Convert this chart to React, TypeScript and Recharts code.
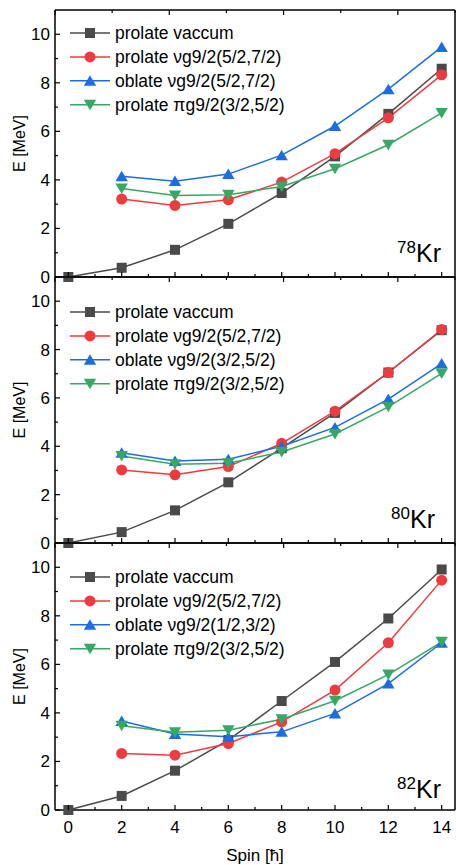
import React from 'react';
import { LineChart, Line, XAxis, YAxis, Legend } from 'recharts';

const SPIN = [0, 2, 4, 6, 8, 10, 12, 14];
const X_TICKS = [0, 1, 2, 3, 4, 5, 6, 7, 8, 9, 10, 11, 12, 13, 14];
const Y_TICKS = [0, 1, 2, 3, 4, 5, 6, 7, 8, 9, 10];

// 78Kr
const KR78_VACUUM = [0, 0.38, 1.12, 2.19, 3.46, 4.97, 6.72, 8.58];
const KR78_NU = [null, 3.21, 2.95, 3.18, 3.91, 5.08, 6.56, 8.33];
const KR78_OBLATE = [null, 4.15, 3.95, 4.24, 5.02, 6.22, 7.74, 9.48];
const KR78_PI = [null, 3.65, 3.36, 3.39, 3.73, 4.46, 5.45, 6.76];

// 80Kr
const KR80_VACUUM = [0, 0.45, 1.35, 2.51, 3.92, 5.38, 7.05, 8.8];
const KR80_NU = [null, 3.02, 2.82, 3.16, 4.12, 5.45, 7.05, 8.83];
const KR80_OBLATE = [null, 3.73, 3.39, 3.46, 4.0, 4.78, 5.95, 7.42];
const KR80_PI = [null, 3.6, 3.26, 3.3, 3.76, 4.51, 5.63, 7.01];

// 82Kr
const KR82_VACUUM = [0, 0.58, 1.62, 2.88, 4.49, 6.1, 7.89, 9.91];
const KR82_NU = [null, 2.33, 2.26, 2.74, 3.63, 4.94, 6.89, 9.47];
const KR82_OBLATE = [null, 3.67, 3.13, 3.02, 3.22, 3.98, 5.21, 6.89];
const KR82_PI = [null, 3.47, 3.2, 3.29, 3.74, 4.5, 5.58, 6.93];

const FONT = '"Liberation Sans", Arial, sans-serif';
const FRAME = { stroke: '#000', strokeWidth: 1.5 };

type Shape = 'square' | 'circle' | 'up' | 'down';

const SERIES: { key: string; color: string; shape: Shape }[] = [
  { key: 'vacuum', color: '#4a4a4a', shape: 'square' },
  { key: 'nu', color: '#ef3b3f', shape: 'circle' },
  { key: 'oblate', color: '#1c6de0', shape: 'up' },
  { key: 'pi', color: '#37a864', shape: 'down' },
];

const PANELS = [
  {
    mass: '78',
    names: ['prolate vaccum', 'prolate νg9/2(5/2,7/2)', 'oblate νg9/2(5/2,7/2)', 'prolate πg9/2(3/2,5/2)'],
    vacuum: KR78_VACUUM, nu: KR78_NU, oblate: KR78_OBLATE, pi: KR78_PI,
    top: 10, height: 267, legendTop: 21, isoRight: 14, isoBase: 15,
  },
  {
    mass: '80',
    names: ['prolate vaccum', 'prolate νg9/2(5/2,7/2)', 'oblate νg9/2(3/2,5/2)', 'prolate πg9/2(3/2,5/2)'],
    vacuum: KR80_VACUUM, nu: KR80_NU, oblate: KR80_OBLATE, pi: KR80_PI,
    top: 277, height: 266, legendTop: 33, isoRight: 20, isoBase: 15,
  },
  {
    mass: '82',
    names: ['prolate vaccum', 'prolate νg9/2(5/2,7/2)', 'oblate νg9/2(1/2,3/2)', 'prolate πg9/2(3/2,5/2)'],
    vacuum: KR82_VACUUM, nu: KR82_NU, oblate: KR82_OBLATE, pi: KR82_PI,
    top: 543, height: 267, legendTop: 32, isoRight: 14, isoBase: 12,
  },
];

const Marker = ({ cx, cy, shape, color }: any) => {
  if (cx == null || cy == null || isNaN(cy)) return <g />;
  if (shape === 'square') return <rect x={cx - 5} y={cy - 5} width={10} height={10} fill={color} />;
  if (shape === 'circle') return <circle cx={cx} cy={cy} r={5.5} fill={color} />;
  if (shape === 'up')
    return <polygon points={`${cx},${cy - 5.5} ${cx + 6.2},${cy + 5} ${cx - 6.2},${cy + 5}`} fill={color} />;
  return <polygon points={`${cx},${cy + 5.5} ${cx + 6.2},${cy - 5} ${cx - 6.2},${cy - 5}`} fill={color} />;
};

// inward ticks, major every 2 units
const YTick = ({ x, y, payload, side }: any) => {
  const major = payload.value % 2 === 0;
  const len = major ? 5 : 3;
  const x2 = side === 'left' ? x + len : x - len;
  return (
    <g>
      <line x1={x} y1={y} x2={x2} y2={y} stroke="#000" strokeWidth={1.2} />
      {side === 'left' && major && (
        <text x={x - 5} y={y + 6} textAnchor="end" fontSize={17} fontFamily={FONT} fill="#000">
          {payload.value}
        </text>
      )}
    </g>
  );
};

const XTick = ({ x, y, payload, side, showLabel }: any) => {
  const major = payload.value % 2 === 0;
  const len = major ? 5 : 3;
  const y2 = side === 'bottom' ? y - len : y + len;
  return (
    <g>
      <line x1={x} y1={y} x2={x} y2={y2} stroke="#000" strokeWidth={1.2} />
      {showLabel && major && (
        <text x={x} y={y + 23} textAnchor="middle" fontSize={17} fontFamily={FONT} fill="#000">
          {payload.value}
        </text>
      )}
    </g>
  );
};

const LegendBox = ({ names }: any) => (
  <svg width={300} height={SERIES.length * 24}>
    {SERIES.map((s, i) => {
      const cy = 12 + i * 23.9;
      return (
        <g key={s.key}>
          <line x1={2} y1={cy} x2={42} y2={cy} stroke={s.color} strokeWidth={1.5} />
          <Marker cx={22} cy={cy} shape={s.shape} color={s.color} />
          <text x={47} y={cy + 6} fontSize={17.5} fontFamily={FONT} fill="#000">
            {names[i]}
          </text>
        </g>
      );
    })}
  </svg>
);

const Panel = ({ cfg, last }: any) => {
  const data = SPIN.map((s, i) => ({
    spin: s,
    vacuum: cfg.vacuum[i],
    nu: cfg.nu[i],
    oblate: cfg.oblate[i],
    pi: cfg.pi[i],
  }));
  const bottom = last ? 55 : 10;

  return (
    <div style={{ position: 'absolute', left: 0, top: cfg.top - 10 }}>
      <LineChart
        width={456}
        height={cfg.height + 10 + bottom}
        data={data}
        margin={{ top: 9, right: 0, bottom: bottom - 1, left: 54 }}
      >
        <XAxis
          dataKey="spin"
          type="number"
          domain={[-0.5, 14.5]}
          ticks={X_TICKS}
          interval={0}
          height={1}
          tickSize={0}
          tickMargin={0}
          axisLine={FRAME}
          tickLine={false}
          tick={(p: any) => <XTick {...p} side="bottom" showLabel={last} />}
          label={
            last
              ? {
                  content: ({ viewBox }: any) => (
                    <text
                      x={viewBox.x + viewBox.width / 2}
                      y={viewBox.y + 51}
                      textAnchor="middle"
                      fontSize={17}
                      fontFamily={FONT}
                      fill="#000"
                    >
                      Spin [ħ]
                    </text>
                  ),
                }
              : undefined
          }
        />
        <XAxis
          xAxisId="top"
          orientation="top"
          type="number"
          domain={[-0.5, 14.5]}
          ticks={X_TICKS}
          interval={0}
          height={1}
          tickSize={0}
          tickMargin={0}
          axisLine={FRAME}
          tickLine={false}
          tick={(p: any) => <XTick {...p} side="top" showLabel={false} />}
        />
        <YAxis
          type="number"
          domain={[0, 11]}
          ticks={Y_TICKS}
          interval={0}
          width={1}
          tickSize={0}
          tickMargin={0}
          axisLine={FRAME}
          tickLine={false}
          tick={(p: any) => <YTick {...p} side="left" />}
          label={{
            content: ({ viewBox }: any) => {
              const cy = viewBox.y + viewBox.height / 2;
              return (
                <text
                  x={25}
                  y={cy}
                  transform={`rotate(-90, 25, ${cy})`}
                  textAnchor="middle"
                  fontSize={16}
                  fontFamily={FONT}
                  fill="#000"
                >
                  E [MeV]
                </text>
              );
            },
          }}
        />
        <YAxis
          yAxisId="right"
          orientation="right"
          type="number"
          domain={[0, 11]}
          ticks={Y_TICKS}
          interval={0}
          width={1}
          tickSize={0}
          tickMargin={0}
          axisLine={FRAME}
          tickLine={false}
          tick={(p: any) => <YTick {...p} side="right" />}
          label={{
            content: ({ viewBox }: any) => (
              <text
                x={viewBox.x - cfg.isoRight}
                y={viewBox.y + viewBox.height - cfg.isoBase}
                textAnchor="end"
                fontFamily={FONT}
                fill="#000"
              >
                <tspan fontSize={17} dy={-9}>
                  {cfg.mass}
                </tspan>
                <tspan fontSize={25} dy={9}>
                  Kr
                </tspan>
              </text>
            ),
          }}
        />
        <Legend
          layout="horizontal"
          verticalAlign="middle"
          align="center"
          wrapperStyle={{ top: cfg.legendTop, left: 68, width: 300, height: 96 }}
          content={() => <LegendBox names={cfg.names} />}
        />
        {SERIES.map((s, i) => (
          <Line
            key={s.key}
            type="linear"
            dataKey={s.key}
            name={cfg.names[i]}
            stroke={s.color}
            strokeWidth={1.5}
            isAnimationActive={false}
            activeDot={false}
            dot={(p: any) => (
              <Marker key={`${s.key}-${p.index}`} cx={p.cx} cy={p.cy} shape={s.shape} color={s.color} />
            )}
          />
        ))}
      </LineChart>
    </div>
  );
}

export default function App() {
  return (
    <div style={{ position: 'absolute', left: 0, top: 0, width: 456, height: 865, background: '#fff' }}>
      {PANELS.map((cfg, i) => (
        <Panel key={cfg.mass} cfg={cfg} last={i === PANELS.length - 1} />
      ))}
    </div>
  );
}
